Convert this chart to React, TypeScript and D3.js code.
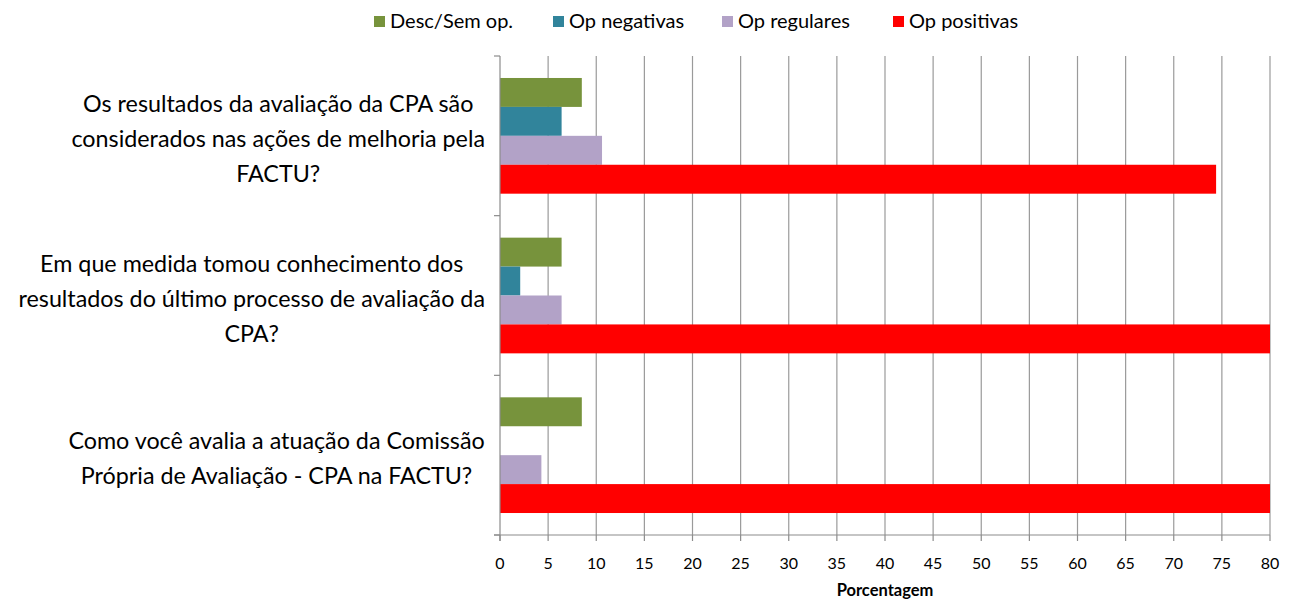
import * as d3 from "d3";

// data
const categories = [
  "Os resultados da avaliação da CPA são considerados nas ações de melhoria pela FACTU?",
  "Em que medida tomou conhecimento dos resultados do último processo de avaliação da CPA?",
  "Como você avalia a atuação da Comissão Própria de Avaliação - CPA na FACTU?",
];
const labelLines = [
  ["Os resultados da avaliação da CPA são", "considerados nas ações de melhoria pela", "FACTU?"],
  ["Em que medida tomou conhecimento dos", "resultados do último processo de avaliação da", "CPA?"],
  ["Como você avalia a atuação da Comissão", "Própria de Avaliação - CPA na FACTU?"],
];
const seriesNames = ["Desc/Sem op.", "Op negativas", "Op regulares", "Op positivas"];
const descSemOp = [8.5, 6.4, 8.5];
const opNegativas = [6.4, 2.1, 0];
const opRegulares = [10.6, 6.4, 4.3];
const opPositivas = [74.4, 80, 80];
const xTicks = d3.range(0, 81, 5);

const seriesValues = [descSemOp, opNegativas, opRegulares, opPositivas];
const colors = ["#77933C", "#31849B", "#B2A2C7", "#FF0000"];

const font = "Lato, 'Open Sans', sans-serif";
const labelSize = 23.3;

// measure text widths so each label block can be right-bound near the axis
function measure(txt: string): number {
  const ctx = document.createElement("canvas").getContext("2d");
  if (!ctx) return txt.length * labelSize * 0.5;
  ctx.font = `${labelSize}px ${font}`;
  return ctx.measureText(txt).width;
}

export default function App() {
  const width = 1293;
  const height = 601;
  const margin = { top: 56, right: 23, bottom: 66, left: 500 };

  const x = d3
    .scaleLinear()
    .domain([0, 80])
    .range([margin.left, width - margin.right]);

  const y = d3
    .scaleBand()
    .domain(categories)
    .range([margin.top, height - margin.bottom]);

  const inner = d3
    .scaleBand()
    .domain(seriesNames)
    .range([0, y.bandwidth()])
    .paddingOuter(0.76);

  const legendX = [374, 553, 722, 893];

  return (
    <svg
      width={width}
      height={height}
      style={{ position: "absolute", left: 0, top: 0, background: "#fff" }}
      fontFamily={font}
    >
      {/* legend */}
      {seriesNames.map((s, i) => (
        <g key={s} transform={`translate(${legendX[i]},16)`}>
          <rect width={11} height={11} fill={colors[i]} />
          <text x={16} y={12} fontSize={20} fill="#000">
            {s}
          </text>
        </g>
      ))}

      {/* gridlines */}
      {xTicks.slice(1).map((t) => (
        <line
          key={t}
          x1={x(t)}
          x2={x(t)}
          y1={margin.top}
          y2={height - margin.bottom}
          stroke="#9a9a9a"
          strokeWidth={1.2}
        />
      ))}

      {/* bars */}
      {categories.map((c, ci) =>
        seriesNames.map((s, si) => {
          const v = seriesValues[si][ci];
          if (!v) return null;
          return (
            <rect
              key={c + s}
              x={x(0)}
              y={(y(c) as number) + (inner(s) as number)}
              width={x(Math.min(v, 80)) - x(0)}
              height={inner.bandwidth()}
              fill={colors[si]}
            />
          );
        })
      )}

      {/* y axis */}
      <line
        x1={x(0)}
        x2={x(0)}
        y1={margin.top}
        y2={height - margin.bottom + 6}
        stroke="#8c8c8c"
        strokeWidth={1.2}
      />
      {[...categories.map((c) => y(c) as number), height - margin.bottom].map((v, i) => (
        <line key={i} x1={x(0) - 6} x2={x(0)} y1={v} y2={v} stroke="#8c8c8c" strokeWidth={1.2} />
      ))}

      {/* x axis */}
      <line
        x1={x(0) - 6}
        x2={x(80)}
        y1={height - margin.bottom}
        y2={height - margin.bottom}
        stroke="#8c8c8c"
        strokeWidth={1.2}
      />
      {xTicks.map((t) => (
        <g key={t}>
          <line
            x1={x(t)}
            x2={x(t)}
            y1={height - margin.bottom}
            y2={height - margin.bottom + 6}
            stroke="#8c8c8c"
            strokeWidth={1.2}
          />
          <text x={x(t)} y={height - margin.bottom + 34} textAnchor="middle" fontSize={16} fill="#000">
            {t}
          </text>
        </g>
      ))}
      <text
        x={(x(0) + x(80)) / 2}
        y={596}
        textAnchor="middle"
        fontSize={16.5}
        fontWeight="bold"
        fill="#000"
      >
        Porcentagem
      </text>

      {/* category labels */}
      {categories.map((c, ci) => {
        const lines = labelLines[ci];
        const maxW = d3.max(lines, measure) as number;
        const cx = 485 - maxW / 2;
        const cy = (y(c) as number) + y.bandwidth() / 2 + 4;
        const lh = 35;
        const start = cy - ((lines.length - 1) * lh) / 2;
        return (
          <text key={c} textAnchor="middle" fontSize={labelSize} fill="#000">
            {lines.map((l, li) => (
              <tspan key={li} x={cx} y={start + li * lh + 7.5}>
                {l}
              </tspan>
            ))}
          </text>
        );
      })}
    </svg>
  );
}
